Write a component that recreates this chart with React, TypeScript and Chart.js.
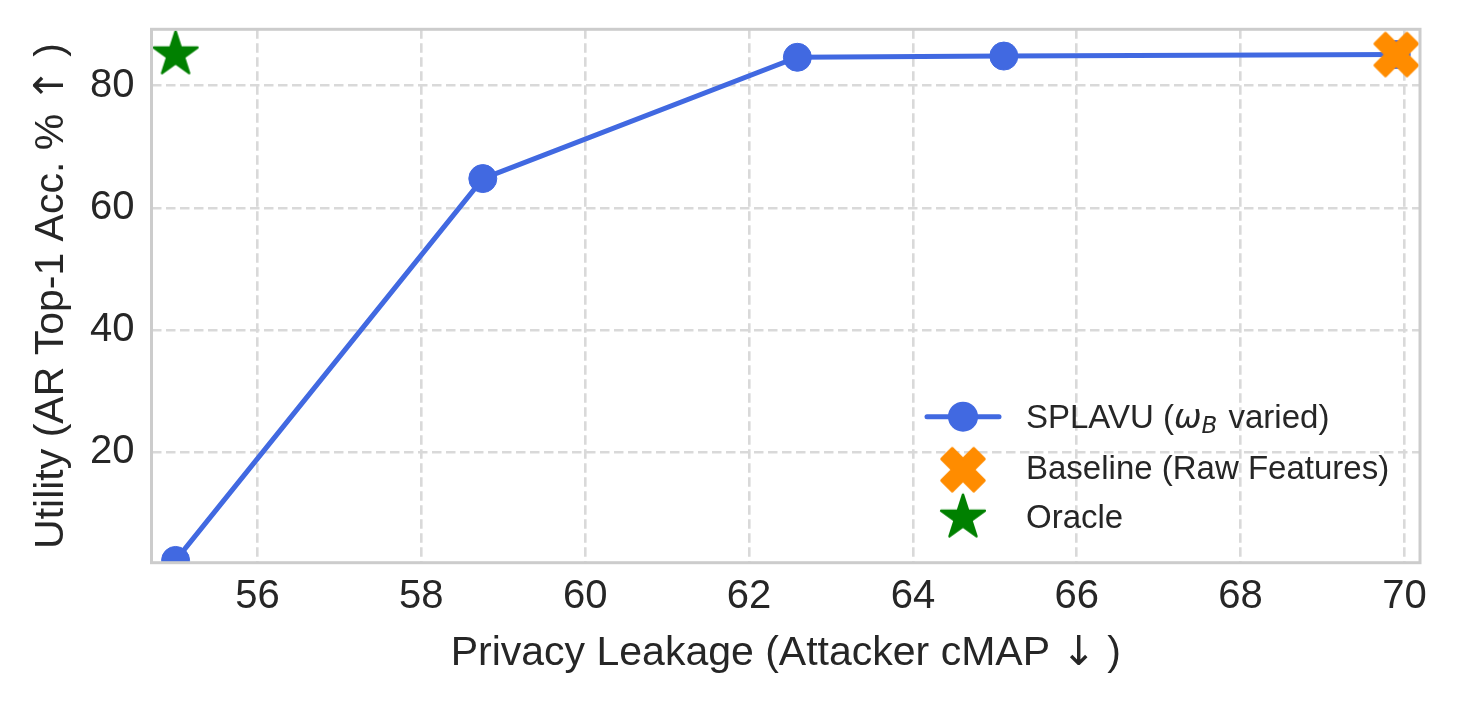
import React, { useEffect, useRef } from "react";
import { Chart, registerables } from "chart.js";

Chart.register(...registerables);

// ---- data ----
const splavuX = [55.0, 58.75, 62.59, 65.11, 69.9];
const splavuY = [2.3, 64.8, 84.65, 84.85, 85.1];
const baselineX = [69.9];
const baselineY = [85.1];
const oracleX = [55.0];
const oracleY = [85.1];
const xTicks = [56, 58, 60, 62, 64, 66, 68, 70];
const yTicks = [20, 40, 60, 80];
const xRange = [54.706, 70.19];
const yRange = [1.93, 89.23];
const seriesLabels = ["SPLAVU", "Baseline (Raw Features)", "Oracle"];
const xTitleParts = ["Privacy Leakage (Attacker cMAP ", "\u2193", " )"];
const yTitleParts = ["Utility (AR Top-1 Acc. % ", "\u2191", " )"];

const BLUE = "#4169E1";
const ORANGE = "#FF8C00";
const GREEN = "#008000";
const TEXT = "#262626";
const GRID = "#d9d9d9";
const FRAME = "#cccccc";
const FONT = "'Liberation Sans', Arial, sans-serif";
const ARROW_FONT = "'DejaVu Sans', sans-serif";

function makeXMarker(color: string): HTMLCanvasElement {
  const c = document.createElement("canvas");
  c.width = 52;
  c.height = 52;
  const ctx = c.getContext("2d")!;
  const pts = [
    [0.25, 0], [0.5, 0.25], [0.25, 0.5], [0, 0.25], [-0.25, 0.5], [-0.5, 0.25],
    [-0.25, 0], [-0.5, -0.25], [-0.25, -0.5], [0, -0.25], [0.25, -0.5], [0.5, -0.25],
  ];
  const k = 43;
  ctx.beginPath();
  pts.forEach(([px, py], i) => {
    const X = 26 + px * k;
    const Y = 26 + py * k;
    if (i === 0) ctx.moveTo(X, Y);
    else ctx.lineTo(X, Y);
  });
  ctx.closePath();
  ctx.fillStyle = color;
  ctx.strokeStyle = color;
  ctx.lineWidth = 2.5;
  ctx.lineJoin = "round";
  ctx.fill();
  ctx.stroke();
  return c;
}

function makeStar(color: string): HTMLCanvasElement {
  const c = document.createElement("canvas");
  c.width = 54;
  c.height = 54;
  const ctx = c.getContext("2d")!;
  const R = 23;
  const r = R * 0.381966;
  ctx.beginPath();
  for (let i = 0; i < 10; i++) {
    const ang = -Math.PI / 2 + (i * Math.PI) / 5;
    const rad = i % 2 === 0 ? R : r;
    const X = 27 + rad * Math.cos(ang);
    const Y = 27 + rad * Math.sin(ang);
    if (i === 0) ctx.moveTo(X, Y);
    else ctx.lineTo(X, Y);
  }
  ctx.closePath();
  ctx.fillStyle = color;
  ctx.strokeStyle = color;
  ctx.lineWidth = 2.5;
  ctx.lineJoin = "round";
  ctx.fill();
  ctx.stroke();
  return c;
}

function drawParts(ctx: CanvasRenderingContext2D, parts: string[], size: number, cx: number, baseY: number) {
  const fonts = [`${size}px ${FONT}`, `${size}px ${ARROW_FONT}`, `${size}px ${FONT}`];
  let total = 0;
  const widths = parts.map((p, i) => {
    ctx.font = fonts[i];
    const w = ctx.measureText(p).width;
    total += w;
    return w;
  });
  let x = cx - total / 2;
  parts.forEach((p, i) => {
    ctx.font = fonts[i];
    ctx.fillText(p, x, baseY);
    x += widths[i];
  });
}

export default function App() {
  const ref = useRef<HTMLCanvasElement | null>(null);

  useEffect(() => {
    const canvas = ref.current;
    if (!canvas) return;
    const xImg = makeXMarker(ORANGE);
    const starImg = makeStar(GREEN);

    const framePlugin = {
      id: "frameAndLegend",
      afterDraw(chart: any) {
        const ctx = chart.ctx;
        const ca = chart.chartArea;
        ctx.save();
        ctx.strokeStyle = FRAME;
        ctx.lineWidth = 3;
        ctx.strokeRect(ca.left, ca.top, ca.right - ca.left, ca.bottom - ca.top);

        // axis titles
        ctx.fillStyle = TEXT;
        ctx.textBaseline = "alphabetic";
        ctx.textAlign = "left";
        drawParts(ctx, xTitleParts, 41, (ca.left + ca.right) / 2, 665);
        ctx.save();
        ctx.translate(63, (ca.top + ca.bottom) / 2);
        ctx.rotate(-Math.PI / 2);
        drawParts(ctx, yTitleParts, 41, 0, 0);
        ctx.restore();

        // legend
        const mx = ca.right - 457;
        const tx = ca.right - 394;
        const fs = 33;
        const rows = [ca.bottom - 146, ca.bottom - 95, ca.bottom - 46];
        ctx.strokeStyle = BLUE;
        ctx.lineWidth = 5;
        ctx.lineCap = "round";
        ctx.beginPath();
        ctx.moveTo(mx - 36, rows[0]);
        ctx.lineTo(mx + 36, rows[0]);
        ctx.stroke();
        ctx.fillStyle = BLUE;
        ctx.beginPath();
        ctx.arc(mx, rows[0], 15, 0, Math.PI * 2);
        ctx.fill();
        ctx.drawImage(xImg, mx - xImg.width / 2, rows[1] - xImg.height / 2 + 2);
        ctx.drawImage(starImg, mx - starImg.width / 2, rows[2] - starImg.height / 2 + 1);

        ctx.fillStyle = TEXT;
        const base0 = rows[0] + 11;
        let x = tx;
        ctx.font = `${fs}px ${FONT}`;
        const p1 = seriesLabels[0] + " (";
        ctx.fillText(p1, x, base0);
        x += ctx.measureText(p1).width;
        ctx.font = `italic ${fs}px 'DejaVu Sans', sans-serif`;
        ctx.fillText("\u03C9", x, base0);
        x += ctx.measureText("\u03C9").width;
        ctx.font = `italic ${Math.round(fs * 0.7)}px 'DejaVu Sans', sans-serif`;
        ctx.fillText("B", x, base0 + 5);
        x += ctx.measureText("B").width + 2;
        ctx.font = `${fs}px ${FONT}`;
        ctx.fillText(" varied)", x, base0);

        ctx.fillText(seriesLabels[1], tx, rows[1] + 11);
        ctx.fillText(seriesLabels[2], tx, rows[2] + 11);
        ctx.restore();
      },
    };

    const tickFont = { family: FONT, size: 40 };

    const chart = new Chart(canvas, {
      type: "scatter",
      data: {
        datasets: [
          {
            label: seriesLabels[0],
            data: splavuX.map((x, i) => ({ x, y: splavuY[i] })),
            showLine: true,
            borderColor: BLUE,
            backgroundColor: BLUE,
            borderWidth: 5,
            pointRadius: 14,
            pointHoverRadius: 14,
            pointBorderWidth: 1,
            pointBorderColor: BLUE,
            pointBackgroundColor: BLUE,
            order: 3,
            clip: 0,
          } as any,
          {
            label: seriesLabels[1],
            data: baselineX.map((x, i) => ({ x, y: baselineY[i] })),
            pointStyle: xImg,
            pointRadius: 23,
            order: 2,
            clip: 0,
          } as any,
          {
            label: seriesLabels[2],
            data: oracleX.map((x, i) => ({ x, y: oracleY[i] })),
            pointStyle: starImg,
            pointRadius: 24,
            order: 1,
            clip: 0,
          } as any,
        ],
      },
      options: {
        animation: false,
        responsive: false,
        maintainAspectRatio: false,
        events: [],
        layout: { padding: { left: 0, right: 37, top: 29.3, bottom: 0 } },
        plugins: { legend: { display: false }, tooltip: { enabled: false } },
        scales: {
          x: {
            type: "linear",
            min: xRange[0],
            max: xRange[1],
            afterBuildTicks: (s: any) => {
              s.ticks = xTicks.map((v) => ({ value: v }));
            },
            afterFit: (s: any) => {
              s.height = 142.3;
              s.paddingLeft = 0;
              s.paddingRight = 0;
            },
            ticks: { font: tickFont, color: TEXT, padding: 10, maxRotation: 0, autoSkip: false },
            grid: { color: GRID, lineWidth: 2.6, drawTicks: false, borderDash: [9.5, 4.5] } as any,
            border: { display: false, dash: [9.5, 4.5] },
            title: { display: false },
          },
          y: {
            type: "linear",
            min: yRange[0],
            max: yRange[1],
            afterBuildTicks: (s: any) => {
              s.ticks = yTicks.map((v) => ({ value: v }));
            },
            afterFit: (s: any) => {
              s.width = 151.5;
              s.paddingTop = 0;
              s.paddingBottom = 0;
            },
            ticks: { font: tickFont, color: TEXT, padding: 17, autoSkip: false },
            grid: { color: GRID, lineWidth: 2.6, drawTicks: false, borderDash: [9.5, 4.5] } as any,
            border: { display: false, dash: [9.5, 4.5] },
            title: { display: false },
          },
        },
      },
      plugins: [framePlugin],
    } as any);

    return () => chart.destroy();
  }, []);

  return (
    <div style={{ position: "fixed", left: 0, top: 0, width: 1457, height: 705, background: "#fff" }}>
      <canvas ref={ref} width={1457} height={705} style={{ display: "block" }} />
    </div>
  );
}
